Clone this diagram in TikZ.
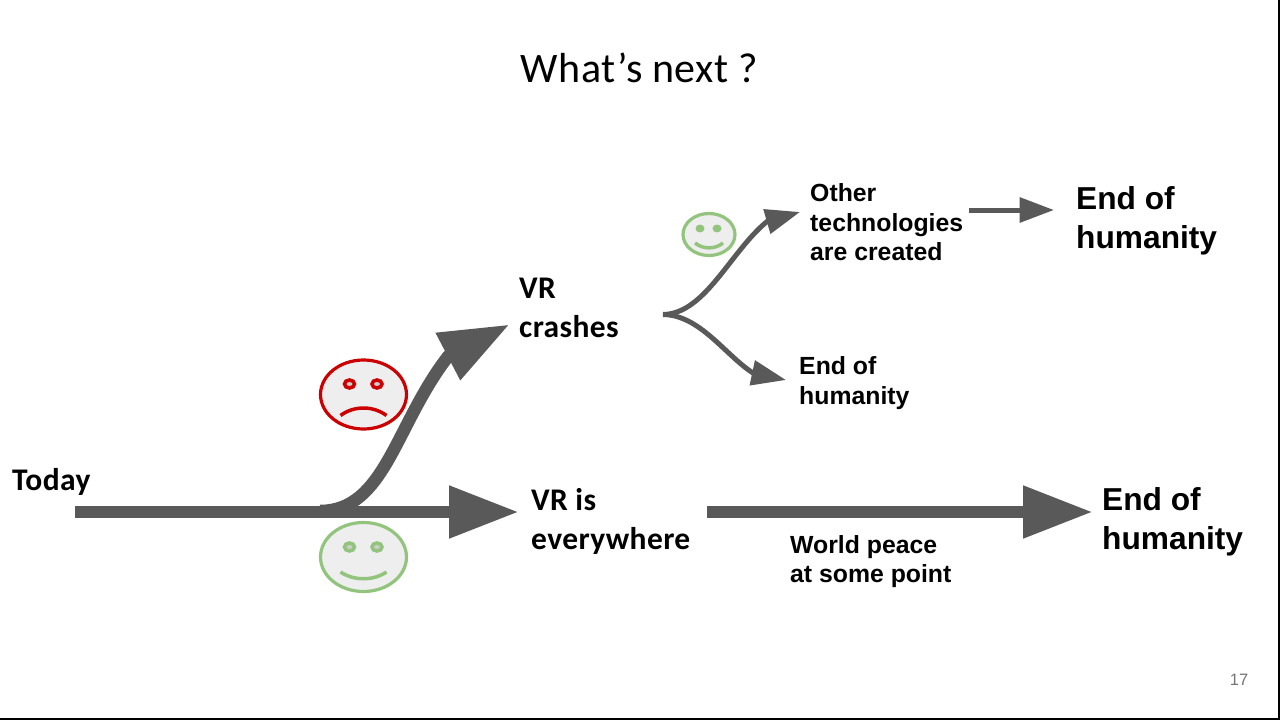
\documentclass[tikz,border=0pt]{standalone}
\usepackage{fontspec}
\setmainfont{Liberation Sans}
\newfontfamily\carl[LetterSpace=1.3]{Carlito}
\newfontfamily\carltitle[LetterSpace=1.2]{Carlito}
\usetikzlibrary{arrows.meta,shapes.geometric}
\definecolor{arrowgrey}{HTML}{595959}
\definecolor{facefill}{HTML}{EEEEEE}
\definecolor{sadred}{HTML}{CC0000}
\definecolor{happygreen}{HTML}{93C47D}
\definecolor{pagenum}{HTML}{757575}
\tikzset{
  lbl/.style={anchor=west,inner sep=0pt,align=left,text=black},
  cal/.style={lbl,font=\carl\bfseries\fontsize{31.5}{39}\selectfont},
  big/.style={lbl,font=\bfseries\fontsize{31.7}{39}\selectfont},
  small/.style={lbl,font=\bfseries\fontsize{24.8}{29.5}\selectfont},
  thick arrow/.style={draw=arrowgrey,line width=11.5pt,-{Triangle[length=69.5pt,width=50pt]},arrowgrey},
  thin arrow/.style={draw=arrowgrey,line width=5pt,-{Triangle[length=34.5pt,width=24.5pt]},arrowgrey},
  face/.style={draw=#1,fill=facefill,ellipse,inner sep=0pt,line width=3.2pt},
  faceline/.style={draw=#1,line width=3.5pt},
  eye/.style={draw=#1,fill=facefill!70!gray,line width=3.5pt}
}
\begin{document}
\begin{tikzpicture}[x=1pt,y=-1pt]
\useasboundingbox (0,0) rectangle (1280,720);
\fill[white] (0,0) rectangle (1280,720);
\fill[black] (1278,0) rectangle (1280,720);
\fill[black] (0,718) rectangle (1280,720);

\node[inner sep=0pt,font=\carltitle\fontsize{42}{50}\selectfont] (title) at (639.5,68) {What’s next ?};
\node[inner sep=0pt,text=pagenum,font=\fontsize{16.5}{19}\selectfont] (pageno) at (1239,680) {17};

\node[cal] (today) at (12,482) {Today};
\node[cal] (crashes) at (519,308) {VR\\crashes};
\node[cal] (everywhere) at (531,521) {VR is\\everywhere};
\node[small] (other) at (810,222.5) {Other\\technologies\\are created};
\node[small] (endmid) at (799,383) {End of\\humanity};
\node[big] (endtop) at (1076,220.5) {End of\\humanity};
\node[big] (endbot) at (1102,522) {End of\\humanity};
\node[small] (peace) at (790,561.5) {World peace\\at some point};

\coordinate (start) at (75,512);
\coordinate (tipA) at (518.5,512);
\coordinate (bend) at (320,511);
\coordinate (baseB) at (448,356.5);
\coordinate (tipB) at (509.5,324.5);
\coordinate (longS) at (707,512);
\coordinate (longE) at (1092.5,512);
\coordinate (fork) at (663,314.5);
\coordinate (baseC) at (767,221.5);
\coordinate (tipC) at (800,212);
\coordinate (baseD) at (753,373);
\coordinate (tipD) at (786,380);
\coordinate (topS) at (969,210);
\coordinate (topE) at (1054,210);

\path[thick arrow,line width=12.5pt] (bend) .. controls (385,511) and (395,425) .. (baseB) -- (tipB);
\path[thick arrow] (start) -- (tipA);
\path[thick arrow] (longS) -- (longE);
\path[thin arrow] (fork) .. controls (705,314) and (730,252) .. (baseC) -- (tipC);
\path[thin arrow] (fork) .. controls (700,315) and (725,355) .. (baseD) -- (tipD);
\path[thin arrow] (topS) -- (topE);

% sad face
\node[face=sadred,minimum width=86pt,minimum height=69pt] (sad) at (363.5,394.5) {};
\draw[eye=sadred] (349.5,384) ellipse [x radius=5pt,y radius=4pt];
\draw[eye=sadred] (377,384) ellipse [x radius=5pt,y radius=4pt];
\draw[faceline=sadred] (340.5,415.5) .. controls (354,405.5) and (373,405.5) .. (386.5,415.5);

% happy face
\node[face=happygreen,minimum width=86pt,minimum height=69pt] (happy) at (363.5,557) {};
\draw[eye=happygreen] (349.5,547) ellipse [x radius=5pt,y radius=4pt];
\draw[eye=happygreen] (377,547) ellipse [x radius=5pt,y radius=4pt];
\draw[faceline=happygreen] (340.5,572) .. controls (354,581) and (373,581) .. (386.5,572);

% small happy face
\node[face=happygreen,minimum width=52pt,minimum height=42pt] (tiny) at (709,234.5) {};
\fill[happygreen] (700,228.5) ellipse [x radius=4.5pt,y radius=4pt];
\fill[happygreen] (717,228.5) ellipse [x radius=4.5pt,y radius=4pt];
\draw[faceline=happygreen] (695,243) .. controls (703,249.5) and (715,249.5) .. (723,243);
\end{tikzpicture}
\end{document}
